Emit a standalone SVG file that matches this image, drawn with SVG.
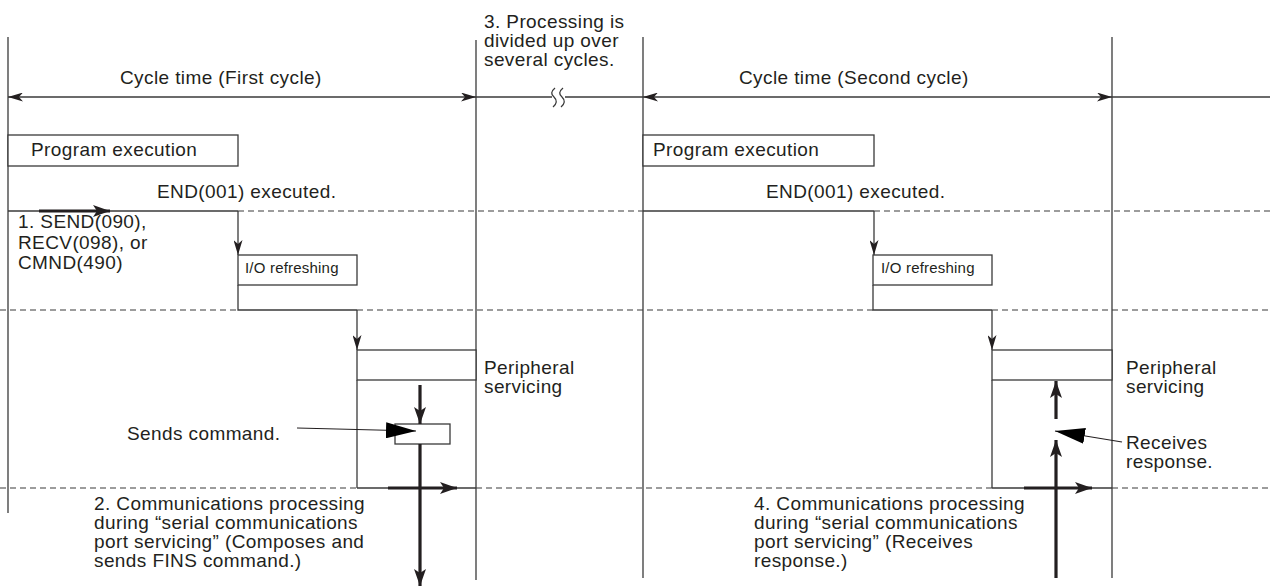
<svg xmlns="http://www.w3.org/2000/svg" width="1270" height="587" viewBox="0 0 1270 587">
<style>
text{font-family:"Liberation Sans",Arial,Helvetica,sans-serif;font-size:19px;letter-spacing:0.4px;fill:#231f20}
.sm{font-size:15px;letter-spacing:0.2px}
.ln{stroke:#3a3a3a;stroke-width:1.3;fill:none}
.ds{stroke:#3a3a3a;stroke-width:1.2;stroke-dasharray:6,4;fill:none}
.bx{stroke:#3a3a3a;stroke-width:1.3;fill:#fff}
.bd{stroke:#231f20;stroke-width:3.2;fill:none}
.th{stroke:#231f20;stroke-width:1.2;fill:none}
</style>
<defs>
<marker id="ah" viewBox="0 0 15 9" refX="15" refY="4.5" markerWidth="15" markerHeight="9" markerUnits="userSpaceOnUse" orient="auto-start-reverse"><path d="M0,0 L15,4.5 L0,9 L4,4.5 Z" fill="#231f20"/></marker>
<marker id="bh" viewBox="0 0 17 12" refX="17" refY="6" markerWidth="17" markerHeight="12" markerUnits="userSpaceOnUse" orient="auto"><path d="M0,0 L17,6 L0,12 L4,6 Z" fill="#231f20"/></marker>
<marker id="ch" viewBox="0 0 30 16" refX="30" refY="8" markerWidth="30" markerHeight="16" markerUnits="userSpaceOnUse" orient="auto"><path d="M0,0 L30,8 L0,16 Z" fill="#000"/></marker>
</defs>

<g id="frame">
<line class="ln" x1="8" y1="37" x2="8" y2="513"/>
<line class="ln" x1="476" y1="40" x2="476" y2="580"/>
<line class="ln" x1="643" y1="37" x2="643" y2="578"/>
<line class="ln" x1="1112" y1="37" x2="1112" y2="578"/>
</g>

<g id="timeline">
<line class="ln" x1="8" y1="97" x2="476" y2="97" marker-start="url(#ah)" marker-end="url(#ah)"/>
<line class="ln" x1="476" y1="97" x2="552" y2="97"/>
<line class="ln" x1="565" y1="97" x2="643" y2="97"/>
<path class="ln" d="M555,88 q-6,5 -1,9 q5,5 -1,10"/>
<path class="ln" d="M563,88 q-6,5 -1,9 q5,5 -1,10"/>
<line class="ln" x1="643" y1="97" x2="1112" y2="97" marker-start="url(#ah)" marker-end="url(#ah)"/>
<line class="ln" x1="1112" y1="97" x2="1270" y2="97"/>
<text x="120" y="84">Cycle time (First cycle)</text>
<text x="739" y="84">Cycle time (Second cycle)</text>
</g>

<g id="note3">
<text x="484" y="28">3. Processing is</text>
<text x="484" y="47">divided up over</text>
<text x="484" y="66">several cycles.</text>
</g>

<g id="prog1"><rect class="bx" x="8" y="135" width="230" height="31"/><text x="31" y="156">Program execution</text></g>
<g id="prog2"><rect class="bx" x="643" y="135" width="231" height="31"/><text x="653" y="156">Program execution</text></g>

<g id="end1"><text x="157" y="198">END(001) executed.</text></g>
<g id="end2"><text x="766" y="198">END(001) executed.</text></g>

<g id="io1"><rect class="bx" x="238" y="255" width="119" height="30"/><text class="sm" x="245" y="273">I/O refreshing</text></g>
<g id="io2"><rect class="bx" x="873" y="255" width="119" height="30"/><text class="sm" x="881" y="273">I/O refreshing</text></g>

<g id="periph1">
<rect class="bx" x="357" y="350" width="119" height="30"/>
<line class="ln" x1="357" y1="380" x2="357" y2="488"/>
<text x="484" y="374">Peripheral</text>
<text x="484" y="393">servicing</text>
</g>
<g id="periph2">
<rect class="bx" x="992" y="350" width="120" height="30"/>
<line class="ln" x1="992" y1="380" x2="992" y2="488"/>
<text x="1126" y="374">Peripheral</text>
<text x="1126" y="393">servicing</text>
</g>

<g id="sendbox"><rect class="bx" x="395" y="424" width="55" height="20"/></g>

<g id="note1">
<text x="18" y="228">1. SEND(090),</text>
<text x="18" y="249">RECV(098), or</text>
<text x="18" y="269">CMND(490)</text>
</g>

<g id="sends-label"><text x="127" y="440">Sends command.</text></g>
<g id="receives-label"><text x="1126" y="449">Receives</text><text x="1126" y="468">response.</text></g>

<g id="note2">
<text x="94" y="510">2. Communications processing</text>
<text x="94" y="529">during “serial communications</text>
<text x="94" y="548">port servicing” (Composes and</text>
<text x="94" y="567">sends FINS command.)</text>
</g>
<g id="note4">
<text x="754" y="510">4. Communications processing</text>
<text x="754" y="529">during “serial communications</text>
<text x="754" y="548">port servicing” (Receives</text>
<text x="754" y="567">response.)</text>
</g>

<g id="connectors">
<line class="ln" x1="8" y1="211" x2="238" y2="211"/>
<line class="ds" x1="238" y1="211" x2="643" y2="211"/>
<line class="ln" x1="643" y1="211" x2="874" y2="211"/>
<line class="ds" x1="874" y1="211" x2="1270" y2="211"/>
<line class="ln" x1="238" y1="211" x2="238" y2="255" marker-end="url(#ah)"/>
<line class="ln" x1="874" y1="211" x2="874" y2="255" marker-end="url(#ah)"/>
<line class="ds" x1="0" y1="310" x2="238" y2="310"/>
<path class="ln" d="M238,285 V310 H357"/>
<line class="ds" x1="357" y1="310" x2="873" y2="310"/>
<path class="ln" d="M873,285 V310 H992"/>
<line class="ds" x1="992" y1="310" x2="1270" y2="310"/>
<line class="ln" x1="357" y1="310" x2="357" y2="350" marker-end="url(#ah)"/>
<line class="ln" x1="992" y1="310" x2="992" y2="350" marker-end="url(#ah)"/>
<line class="ds" x1="0" y1="488" x2="357" y2="488"/>
<line class="ln" x1="357" y1="488" x2="476" y2="488"/>
<line class="ds" x1="476" y1="488" x2="992" y2="488"/>
<line class="ln" x1="992" y1="488" x2="1112" y2="488"/>
<line class="ds" x1="1112" y1="488" x2="1270" y2="488"/>
<line class="bd" x1="39" y1="211" x2="110" y2="211" marker-end="url(#bh)"/>
<line class="bd" x1="420" y1="385" x2="420" y2="424" marker-end="url(#bh)"/>
<line class="bd" x1="420" y1="444" x2="420" y2="586" marker-end="url(#bh)"/>
<line class="bd" x1="388" y1="488" x2="457" y2="488" marker-end="url(#bh)"/>
<line class="bd" x1="1056" y1="578" x2="1056" y2="440" marker-end="url(#bh)"/>
<line class="bd" x1="1056" y1="419" x2="1056" y2="381" marker-end="url(#bh)"/>
<line class="bd" x1="1024" y1="488" x2="1092" y2="488" marker-end="url(#bh)"/>
<line class="th" x1="297" y1="428" x2="416" y2="431" marker-end="url(#ch)"/>
<line class="th" x1="1122" y1="442" x2="1055" y2="431" marker-end="url(#ch)"/>
</g>
</svg>
